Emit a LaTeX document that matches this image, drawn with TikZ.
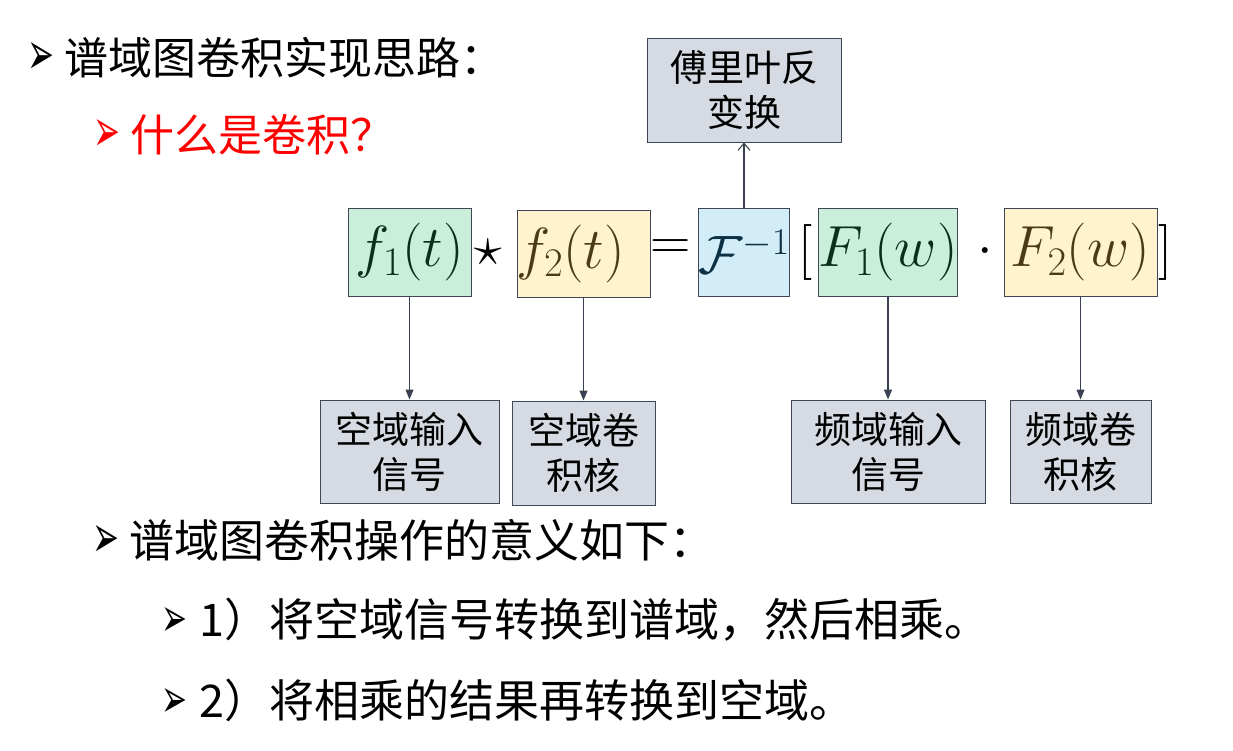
\RequirePackage{fix-cm}
\documentclass[tikz,border=0pt]{standalone}
\usepackage{fontspec}
\setmainfont{Noto Sans CJK SC}
\newfontfamily\bulfont{DejaVu Sans}
\usepackage{tikz}
\usetikzlibrary{arrows.meta}
\definecolor{boxGray}{HTML}{D6DAE2}
\definecolor{boxLine}{HTML}{3F4654}
\definecolor{lineGray}{HTML}{3A4150}
\definecolor{eqGreen}{HTML}{CBEEDB}
\definecolor{eqYellow}{HTML}{FFF2CD}
\definecolor{eqBlue}{HTML}{D3EDF8}
\definecolor{txtGreen}{HTML}{0C2E1D}
\definecolor{txtBrown}{HTML}{4A3B16}
\definecolor{txtBlue}{HTML}{0C3044}
\definecolor{redTxt}{HTML}{FF0000}
\newcommand{\bul}{\resizebox{27pt}{32pt}{\bulfont ➢}\hspace{10pt}}
\newcommand{\subbul}{\resizebox{26pt}{29pt}{\bulfont ➢}\hspace{12pt}}
\tikzset{
  zhbox/.style={draw=boxLine, line width=1pt, fill=boxGray, inner sep=0pt, align=center, font=\fontsize{37}{45}\selectfont},
  eqbox/.style={draw=boxLine, line width=0.8pt, fill=#1, inner sep=0pt, minimum height=88pt, font=\fontsize{58}{62}\selectfont},
  eqop/.style={inner sep=0pt, font=\fontsize{56}{60}\selectfont},
  itemtxt/.style={anchor=west, inner sep=0pt, font=\fontsize{44}{50}\selectfont},
  arrdown/.style={-{Triangle[length=10pt,width=8pt]}, line width=1.1pt, draw=lineGray},
  arrup/.style={-{Straight Barb[length=7pt,width=12pt]}, line width=1.1pt, draw=lineGray},
}

\begin{document}
\begin{tikzpicture}[x=1pt, y=-1pt]
\useasboundingbox (0,0) rectangle (1233,750);

% headings
\node[itemtxt] (head) at (27,58) {\bul 谱域图卷积实现思路：};
\node[itemtxt, text=redTxt] (what) at (93,135) {\bul 什么是卷积？};

% formula
\node[eqbox=eqGreen, minimum width=123pt, text=txtGreen] (f1) at (409.5,252) {$f_1(t)$};
\node[eqop] (star) at (488,252) {$\star$};
\node[eqbox=eqYellow, minimum width=133pt, minimum height=87pt, text=txtBrown] (f2) at (583.5,253.5) {\kern-2pt$f_2(t)$\kern24pt};
\node[eqop] (eq) at (671,250) {$=$};
\node[eqbox=eqBlue, minimum width=90pt, text=txtBlue, font=\fontsize{54}{60}\selectfont] (finv) at (744,252) {$\mathcal{F}^{-1}$};
\node[eqop] (lbr) at (805,252) {$[$};
\node[eqbox=eqGreen, minimum width=138pt, text=txtGreen] (F1) at (888,252) {$F_1(w)$};
\node[eqop] (dot) at (985,252) {$\cdot$};
\node[eqbox=eqYellow, minimum width=153pt, text=txtBrown] (F2) at (1080.5,252) {$F_2(w)$};
\node[eqop] (rbr) at (1165,252) {$]$};

% labels
\node[zhbox, minimum width=194pt, minimum height=104pt] (inv) at (744,90) {傅里叶反\\变换};
\node[zhbox, minimum width=179pt, minimum height=103pt] (sin) at (409.5,451.5) {空域输入\\信号};
\node[zhbox, minimum width=143pt, minimum height=104pt] (sker) at (583.5,453) {空域卷\\积核};
\node[zhbox, minimum width=194pt, minimum height=103pt] (fin) at (888,451.5) {频域输入\\信号};
\node[zhbox, minimum width=141pt, minimum height=103pt] (fker) at (1080.5,451.5) {频域卷\\积核};

\draw[arrup] (finv.north) -- (inv.south);
\draw[arrdown] (f1.south) -- (sin.north);
\draw[arrdown] (f2.south) -- (sker.north);
\draw[arrdown] (F1.south) -- (fin.north);
\draw[arrdown] (F2.south) -- (fker.north);

% meaning
\node[itemtxt, font=\fontsize{45}{50}\selectfont] (mean) at (92,540) {\bul 谱域图卷积操作的意义如下：};
\node[itemtxt, font=\fontsize{45}{50}\selectfont] (step1) at (161,620) {\subbul 1）将空域信号转换到谱域，然后相乘。};
\node[itemtxt, font=\fontsize{45}{50}\selectfont] (step2) at (161,700) {\subbul 2）将相乘的结果再转换到空域。};
\end{tikzpicture}
\end{document}
